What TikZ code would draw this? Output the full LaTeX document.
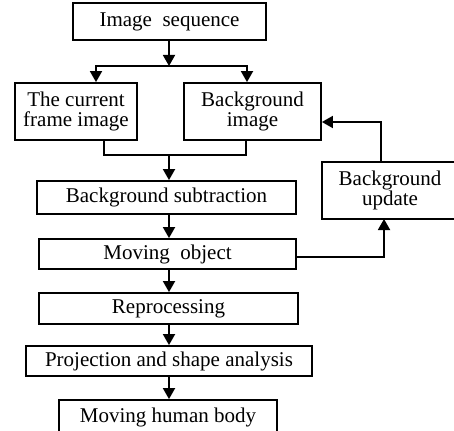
\documentclass[tikz,border=0pt]{standalone}
\usepackage{fontspec}
\setmainfont{Liberation Serif}
\usetikzlibrary{arrows.meta,calc}
\begin{document}
\begin{tikzpicture}[x=1pt,y=-1pt,
  box/.style={draw,line width=1.8pt,rectangle,inner sep=0pt,align=center,
    font=\fontsize{21}{19.5}\selectfont},
  txt/.style={inner sep=0pt,align=center,font=\fontsize{21}{19.5}\selectfont},
  conn/.style={line width=1.8pt},
  arr/.style={line width=1.8pt,-{Triangle[length=11pt,width=12pt]}}]
\useasboundingbox (0,0) rectangle (454,430);
\node[box,minimum width=193pt,minimum height=37pt] (seq) at (169.5,21.5) {Image~~sequence};
\node[box,minimum width=122pt,minimum height=57pt] (cur) at (76,111.5) {The current\\frame image};
\node[box,minimum width=137pt,minimum height=57pt] (bgi) at (252.5,111.5) {Background\\image};
\node[box,minimum width=259pt,minimum height=33pt] (sub) at (166.5,197.5) {Background subtraction};
\node[box,minimum width=257pt,minimum height=30pt] (mov) at (167.5,254) {Moving~~object};
\node[box,minimum width=259pt,minimum height=31pt] (rep) at (168.5,308.5) {Reprocessing};
\node[box,minimum width=286pt,minimum height=30pt] (proj) at (169,361) {Projection and shape analysis};
\node[box,minimum width=218pt,minimum height=34pt] (body) at (168,417) {Moving human body};
% background update box, cut off by the right edge of the picture
\node[txt] (upd) at (390,190.5) {Background\\update};
\coordinate (updNW) at (322,162);
\coordinate (updSE) at (480,219);
\draw[conn] (updNW) rectangle (updSE);
% top split
\coordinate (split) at (169,66);
\coordinate (curin) at ([xshift=20pt]cur.north);
\coordinate (bgiin) at ([xshift=-5.5pt]bgi.north);
\draw[arr] (seq.south -| split) -- (split);
\draw[arr] (split) -| (curin);
\draw[arr] (split) -| (bgiin);
% merge
\coordinate (curout) at ([xshift=28pt]cur.south);
\coordinate (bgiout) at ([xshift=-6.5pt]bgi.south);
\coordinate (merge) at (169,155);
\draw[conn] (curout) |- (merge) -| (bgiout);
\draw[arr] (merge) -- (merge |- sub.north);
% main chain
\draw[arr] (sub.south -| merge) -- (mov.north -| merge);
\draw[arr] (mov.south -| merge) -- (rep.north -| merge);
\draw[arr] (rep.south -| merge) -- (proj.north -| merge);
\draw[arr] (proj.south -| merge) -- (body.north -| merge);
% feedback
\coordinate (movout) at ([yshift=-3pt]mov.east);
\coordinate (updin) at (384,219);
\draw[arr] (movout) -| (updin);
\coordinate (updout) at (381,162);
\coordinate (bgifb) at ([yshift=-10.5pt]bgi.east);
\draw[arr] (updout) |- (bgifb);
\end{tikzpicture}
\end{document}
